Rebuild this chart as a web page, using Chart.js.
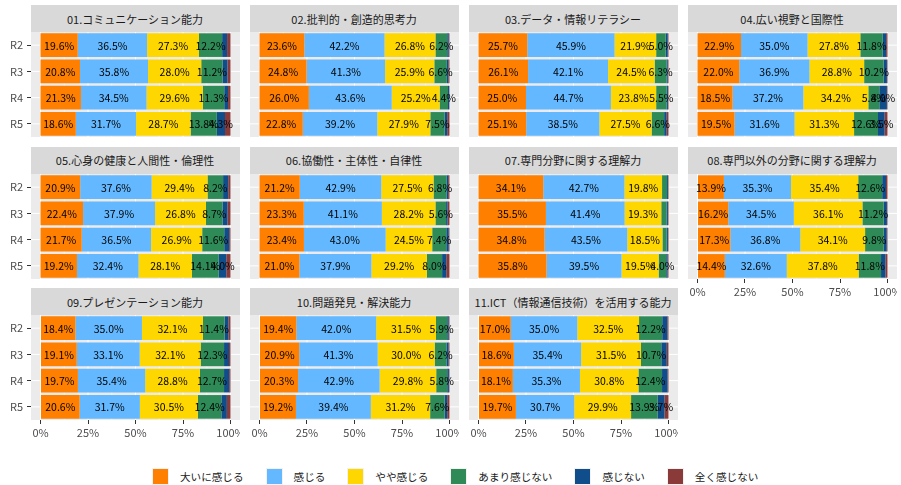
<!DOCTYPE html>
<html>
<head>
<meta charset="utf-8">
<script src="https://cdn.jsdelivr.net/npm/chart.js@4/dist/chart.umd.min.js"></script>
<style>
  body { margin: 0; background: #fff; width: 901px; height: 485px; overflow: hidden; position: relative; font-family: "Noto Sans CJK JP", "Noto Sans", sans-serif; }
  .strip { position: absolute; background: #D9D9D9; color: #1A1A1A; font-size: 11px; display: flex; align-items: center; justify-content: center; white-space: nowrap; }
  canvas { position: absolute; }
  #legend { position: absolute; left: 152px; top: 468px; display: flex; align-items: center; font-size: 10.6px; color: #1A1A1A; }
  #legend .key { width: 17px; height: 17px; box-sizing: border-box; border: 1px solid #F2F2F2; margin-right: 11px; }
  #legend .lbl { margin-right: 22px; white-space: nowrap; }
</style>
</head>
<body>
<div id="legend"></div>
<script>
const FONT = '"Noto Sans CJK JP", "Noto Sans", sans-serif';

const years = ['R2', 'R3', 'R4', 'R5'];
const levels = ['大いに感じる', '感じる', 'やや感じる', 'あまり感じない', '感じない', '全く感じない'];
const levelColors = ['#FF8000', '#63B8FF', '#FFD700', '#2E8B57', '#104E8B', '#8B3A3A'];
const xTicks = [0, 25, 50, 75, 100];

const titles = [
  '01.コミュニケーション能力', '02.批判的・創造的思考力', '03.データ・情報リテラシー', '04.広い視野と国際性',
  '05.心身の健康と人間性・倫理性', '06.協働性・主体性・自律性', '07.専門分野に関する理解力', '08.専門以外の分野に関する理解力',
  '09.プレゼンテーション能力', '10.問題発見・解決能力', '11.ICT（情報通信技術）を活用する能力'
];

// rows: R2..R5, columns: 大いに感じる .. 全く感じない (%)
const p01 = [[19.6, 36.5, 27.3, 12.2, 2.6, 1.8], [20.8, 35.8, 28.0, 11.2, 2.6, 1.6], [21.3, 34.5, 29.6, 11.3, 2.0, 1.3], [18.6, 31.7, 28.7, 13.8, 4.3, 2.9]];
const p02 = [[23.6, 42.2, 26.8, 6.2, 0.8, 0.4], [24.8, 41.3, 25.9, 6.6, 0.8, 0.6], [26.0, 43.6, 25.2, 4.4, 0.6, 0.2], [22.8, 39.2, 27.9, 7.5, 1.4, 1.2]];
const p03 = [[25.7, 45.9, 21.9, 5.0, 1.1, 0.4], [26.1, 42.1, 24.5, 6.3, 0.6, 0.4], [25.0, 44.7, 23.8, 5.5, 0.7, 0.3], [25.1, 38.5, 27.5, 6.6, 1.3, 1.0]];
const p04 = [[22.9, 35.0, 27.8, 11.8, 1.8, 0.7], [22.0, 36.9, 28.8, 10.2, 1.8, 0.3], [18.5, 37.2, 34.2, 5.8, 4.0, 0.3], [19.5, 31.6, 31.3, 12.6, 3.5, 1.5]];
const p05 = [[20.9, 37.6, 29.4, 8.2, 2.7, 1.2], [22.4, 37.9, 26.8, 8.7, 2.6, 1.6], [21.7, 36.5, 26.9, 11.6, 2.6, 0.7], [19.2, 32.4, 28.1, 14.1, 4.0, 2.2]];
const p06 = [[21.2, 42.9, 27.5, 6.8, 0.9, 0.7], [23.3, 41.1, 28.2, 5.6, 0.8, 1.0], [23.4, 43.0, 24.5, 7.4, 1.3, 0.4], [21.0, 37.9, 29.2, 8.0, 2.2, 1.7]];
const p07 = [[34.1, 42.7, 19.8, 2.6, 0.5, 0.3], [35.5, 41.4, 19.3, 2.8, 0.7, 0.3], [34.8, 43.5, 18.5, 2.2, 0.7, 0.3], [35.8, 39.5, 19.5, 4.0, 0.7, 0.5]];
const p08 = [[13.9, 35.3, 35.4, 12.6, 2.0, 0.8], [16.2, 34.5, 36.1, 11.2, 1.7, 0.3], [17.3, 36.8, 34.1, 9.8, 1.6, 0.4], [14.4, 32.6, 37.8, 11.8, 2.3, 1.1]];
const p09 = [[18.4, 35.0, 32.1, 11.4, 2.0, 1.1], [19.1, 33.1, 32.1, 12.3, 2.6, 0.8], [19.7, 35.4, 28.8, 12.7, 2.7, 0.7], [20.6, 31.7, 30.5, 12.4, 2.9, 1.9]];
const p10 = [[19.4, 42.0, 31.5, 5.9, 0.8, 0.4], [20.9, 41.3, 30.0, 6.2, 1.1, 0.5], [20.3, 42.9, 29.8, 5.8, 0.9, 0.3], [19.2, 39.4, 31.2, 7.6, 1.4, 1.2]];
const p11 = [[17.0, 35.0, 32.5, 12.2, 2.7, 0.6], [18.6, 35.4, 31.5, 10.7, 2.9, 0.9], [18.1, 35.3, 30.8, 12.4, 2.9, 0.5], [19.7, 30.7, 29.9, 13.9, 3.7, 2.1]];
const panels = [p01, p02, p03, p04, p05, p06, p07, p08, p09, p10, p11];

// facet grid geometry
const COL_X = 30.5, COL_STEP = 219, PANEL_W = 209;
const ROW_Y = 5.3, ROW_STEP = 141.5, STRIP_H = 27, PANEL_H = 105;
const Y_AXIS_W = 31, X_AXIS_H = 26;

// grey panel + white grid, drawn through the chart's scales
const panelBg = {
  id: 'panelBg',
  beforeDatasetsDraw(chart) {
    const { ctx, chartArea: a, scales: { x, y } } = chart;
    ctx.save();
    ctx.fillStyle = '#EBEBEB';
    ctx.fillRect(a.left, a.top, a.right - a.left, a.bottom - a.top);
    ctx.strokeStyle = '#FFFFFF';
    [12.5, 37.5, 62.5, 87.5].forEach(v => {
      const px = x.getPixelForValue(v);
      ctx.lineWidth = 0.5;
      ctx.beginPath(); ctx.moveTo(px, a.top); ctx.lineTo(px, a.bottom); ctx.stroke();
    });
    xTicks.forEach(v => {
      const px = x.getPixelForValue(v);
      ctx.lineWidth = 1;
      ctx.beginPath(); ctx.moveTo(px, a.top); ctx.lineTo(px, a.bottom); ctx.stroke();
    });
    years.forEach((_, i) => {
      const py = y.getPixelForValue(i);
      ctx.lineWidth = 1;
      ctx.beginPath(); ctx.moveTo(a.left, py); ctx.lineTo(a.right, py); ctx.stroke();
    });
    ctx.restore();
  }
};

const segLabels = {
  id: 'segLabels',
  afterDatasetsDraw(chart) {
    const { ctx } = chart;
    ctx.save();
    ctx.font = '10.5px ' + FONT;
    ctx.fillStyle = '#000';
    ctx.textAlign = 'center';
    ctx.textBaseline = 'middle';
    chart.data.datasets.forEach((ds, di) => {
      chart.getDatasetMeta(di).data.forEach((el, j) => {
        const v = ds.data[j];
        if (v < 3) return;
        ctx.fillText(v.toFixed(1) + '%', (el.x + el.base) / 2, el.y + 0.5);
      });
    });
    ctx.restore();
  }
};

// keep the chart area exactly on the panel: no label overhang padding
const fixSize = (prop, size) => s => {
  s[prop] = size;
  s.paddingLeft = 0; s.paddingRight = 0; s.paddingTop = 0; s.paddingBottom = 0;
};

panels.forEach((vals, i) => {
  const col = i % 4, row = Math.floor(i / 4);
  const hasY = col === 0;
  const hasX = row === 2 || i === 7;
  const yW = hasY ? Y_AXIS_W : 0;
  const xH = hasX ? X_AXIS_H : 0;
  const left = COL_X + col * COL_STEP;
  const top = ROW_Y + row * ROW_STEP;

  const strip = document.createElement('div');
  strip.className = 'strip';
  strip.textContent = titles[i];
  Object.assign(strip.style, { left: left + 'px', top: top + 'px', width: PANEL_W + 'px', height: STRIP_H + 'px' });
  document.body.appendChild(strip);

  const cv = document.createElement('canvas');
  cv.width = PANEL_W + yW;
  cv.height = PANEL_H + xH;
  Object.assign(cv.style, { left: (left - yW) + 'px', top: (top + STRIP_H) + 'px', width: cv.width + 'px', height: cv.height + 'px' });
  document.body.appendChild(cv);

  new Chart(cv, {
    type: 'bar',
    data: {
      labels: years,
      datasets: levels.map((lv, k) => ({
        label: lv,
        data: vals.map(r => r[k]),
        backgroundColor: levelColors[k],
        borderWidth: 0,
        barPercentage: 0.9,
        categoryPercentage: 1
      }))
    },
    options: {
      indexAxis: 'y',
      responsive: false,
      animation: false,
      layout: { padding: 0 },
      plugins: { legend: { display: false }, tooltip: { enabled: false } },
      scales: {
        x: {
          stacked: true, min: -5, max: 105, display: hasX,
          afterBuildTicks: s => { s.ticks = xTicks.map(v => ({ value: v })); },
          afterFit: fixSize('height', xH),
          ticks: { callback: v => v + '%', color: '#4D4D4D', font: { size: 11, family: FONT }, padding: 2, maxRotation: 0, autoSkip: false },
          grid: { drawOnChartArea: false, offset: false, tickLength: 4, tickColor: '#333333', tickWidth: 1 },
          border: { display: false }
        },
        y: {
          stacked: true, display: hasY,
          afterFit: fixSize('width', yW),
          ticks: { color: '#4D4D4D', font: { size: 11, family: FONT }, padding: 4 },
          grid: { drawOnChartArea: false, offset: false, tickLength: 4, tickColor: '#333333', tickWidth: 1 },
          border: { display: false }
        }
      }
    },
    plugins: [panelBg, segLabels]
  });
});

const legendEl = document.getElementById('legend');
levels.forEach((lv, k) => {
  const key = document.createElement('div');
  key.className = 'key';
  key.style.background = levelColors[k];
  const lbl = document.createElement('span');
  lbl.className = 'lbl';
  lbl.textContent = lv;
  legendEl.appendChild(key);
  legendEl.appendChild(lbl);
});
</script>
</body>
</html>
